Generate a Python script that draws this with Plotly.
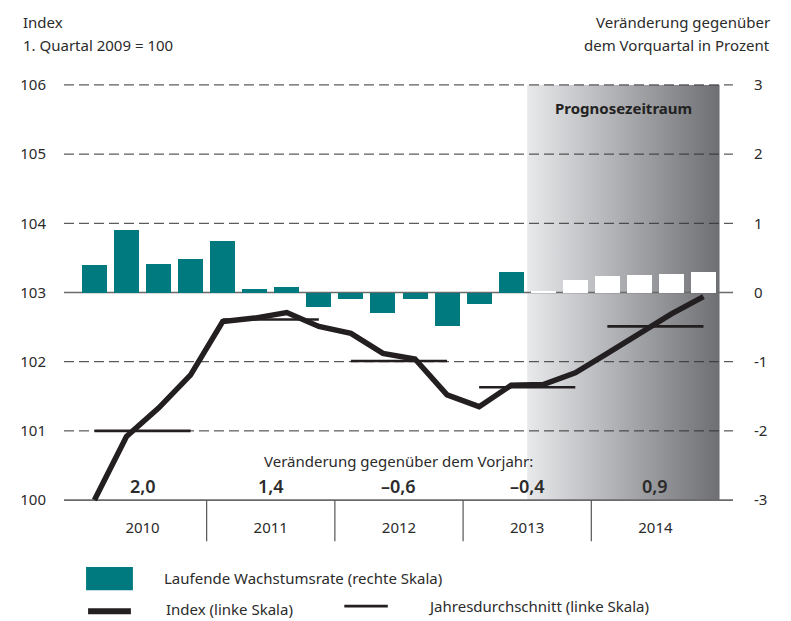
import plotly.graph_objects as go

# ---------------- data ----------------
years = ["2010", "2011", "2012", "2013", "2014"]
quarters_per_year = 4
# quarterly growth rate, % vs previous quarter (right axis)
growth = [0.40, 0.90, 0.41, 0.48, 0.75,
          0.05, 0.08, -0.21, -0.10, -0.29,
          -0.10, -0.49, -0.17, 0.30,
          0.02, 0.18, 0.24, 0.255, 0.27, 0.30]
# index, Q1 2009 = 100 (left axis)
index_vals = [100.00, 100.92, 101.33, 101.81,
              102.58, 102.63, 102.71, 102.51,
              102.41, 102.12, 102.04, 101.52,
              101.35, 101.66, 101.67, 101.84,
              102.12, 102.41, 102.69, 102.94]
# annual averages (left axis)
annual_avg = [101.00, 102.61, 102.01, 101.63, 102.51]
# change vs previous year
yoy_labels = ["2,0", "1,4", "–0,6", "–0,4", "0,9"]
forecast_start = 14  # first forecast quarter (Q3 2013)

left_ticks = [100, 101, 102, 103, 104, 105, 106]
right_ticks = [-3, -2, -1, 0, 1, 2, 3]
right_ticktext = ["-3", "-2", "-1", "0", "1", "2", "3"]

# ---------------- styling ----------------
FONT = "Noto Sans"
TXT = "#2b2b2b"
TEAL = "#00797f"
DARK = "#231f20"

n_q = len(growth)
xq = [i + 0.5 for i in range(n_q)]
xr = [-0.45, n_q + 0.42]

fig = go.Figure()

# forecast shading (gradient)
fig.add_trace(go.Scatter(
    x=[forecast_start, n_q, n_q, forecast_start, forecast_start],
    y=[left_ticks[0], left_ticks[0], left_ticks[-1], left_ticks[-1], left_ticks[0]],
    mode="none", fill="toself",
    fillgradient=dict(type="horizontal",
                      colorscale=[[0, "#e8e9eb"], [1, "#6e6f73"]]),
    hoverinfo="skip", showlegend=False))

# grid lines
for v in left_ticks:
    if v in (100, 103):
        fig.add_trace(go.Scatter(x=xr, y=[v, v], mode="lines",
                                 line=dict(color="#6a6a6a", width=1.6),
                                 hoverinfo="skip", showlegend=False))
    else:
        fig.add_trace(go.Scatter(x=xr, y=[v, v], mode="lines",
                                 line=dict(color="#333333", width=1, dash="10px,5px"),
                                 hoverinfo="skip", showlegend=False))

# annual averages
for k, avg in enumerate(annual_avg):
    x0 = k * quarters_per_year + 0.5
    x1 = k * quarters_per_year + quarters_per_year - 0.5
    fig.add_trace(go.Scatter(x=[x0, x1], y=[avg, avg], mode="lines",
                             line=dict(color=DARK, width=2.6),
                             hoverinfo="skip", showlegend=False))

# index line
fig.add_trace(go.Scatter(x=xq, y=index_vals, mode="lines",
                         line=dict(color=DARK, width=5.5),
                         showlegend=False))

# growth bars (right axis)
bar_colors = [TEAL if i < forecast_start else "#ffffff" for i in range(n_q)]
fig.add_trace(go.Bar(x=xq, y=growth, width=0.78, yaxis="y2",
                     marker=dict(color=bar_colors, line=dict(width=0)),
                     showlegend=False))

# year separators
for k in range(1, len(years)):
    fig.add_shape(type="line", xref="x", yref="paper",
                  x0=k * quarters_per_year, x1=k * quarters_per_year,
                  y0=0.016, y1=-0.08,
                  line=dict(color="#555555", width=1.2))

# annotations
ann = []
for k, lab in enumerate(yoy_labels):
    ann.append(dict(x=k * quarters_per_year + 2, y=100, xref="x", yref="y",
                    yanchor="bottom", yshift=0, text=lab, showarrow=False,
                    font=dict(family=FONT, size=18, color=TXT, weight=600)))
ann.append(dict(x=10, y=100.56, xref="x", yref="y", text="Veränderung gegenüber dem Vorjahr:",
                showarrow=False, font=dict(family=FONT, size=15, color=TXT)))
ann.append(dict(x=(forecast_start + n_q) / 2, y=105.67, xref="x", yref="y",
                text="<b>Prognosezeitraum</b>", showarrow=False,
                font=dict(family=FONT, size=15, color="#222222")))


def para(x, y, text, xanchor):
    return dict(x=x, y=y, xref="paper", yref="paper", xanchor=xanchor,
                yanchor="middle", text=text, showarrow=False,
                font=dict(family=FONT, size=15, color=TXT))


ann.append(para(-0.064, 1.131, "Index", "left"))
ann.append(para(-0.064, 1.077, "1. Quartal 2009 = 100", "left"))
ann.append(para(1.058, 1.131, "Veränderung gegenüber", "right"))
ann.append(para(1.058, 1.077, "dem Vorquartal in Prozent", "right"))
# legend (manual)
fig.add_shape(type="rect", xref="paper", yref="paper", x0=0.033, x1=0.103,
              y0=-0.194, y1=-0.140, fillcolor=TEAL, line=dict(width=0))
fig.add_shape(type="line", xref="paper", yref="paper", x0=0.036, x1=0.1,
              y0=-0.243, y1=-0.243, line=dict(color=DARK, width=6))
fig.add_shape(type="line", xref="paper", yref="paper", x0=0.419, x1=0.484,
              y0=-0.231, y1=-0.231, line=dict(color=DARK, width=2.6))
ann.append(para(0.146, -0.166, "Laufende Wachstumsrate (rechte Skala)", "left"))
ann.append(para(0.150, -0.238, "Index (linke Skala)", "left"))
ann.append(para(0.541, -0.231, "Jahresdurchschnitt (linke Skala)", "left"))

# page body has an 8px default margin -> figure is 783x613
fig.update_layout(
    width=783, height=613,
    margin=dict(l=54, r=58, t=70, b=114),
    paper_bgcolor="white", plot_bgcolor="white",
    font=dict(family=FONT, size=15, color=TXT),
    showlegend=False,
    bargap=0,
    annotations=ann,
    xaxis=dict(range=xr, tickvals=[k * quarters_per_year + 2 for k in range(len(years))],
               ticktext=years, showgrid=False, zeroline=False, showline=False,
               ticks="outside", ticklen=7, tickcolor="rgba(0,0,0,0)",
               tickfont=dict(family=FONT, size=15, color=TXT)),
    yaxis=dict(range=[99.9, 106.1], tickvals=left_ticks, showgrid=False,
               zeroline=False, showline=False, ticks="outside", ticklen=14,
               tickcolor="rgba(0,0,0,0)", tickfont=dict(family=FONT, size=15, color=TXT)),
    yaxis2=dict(range=[-3.1, 3.1], tickvals=right_ticks, ticktext=right_ticktext,
                overlaying="y", side="right", showgrid=False, zeroline=False,
                showline=False, ticks="outside", ticklen=17,
                tickcolor="rgba(0,0,0,0)", tickfont=dict(family=FONT, size=15, color=TXT)),
)

fig.write_html("out.html")
